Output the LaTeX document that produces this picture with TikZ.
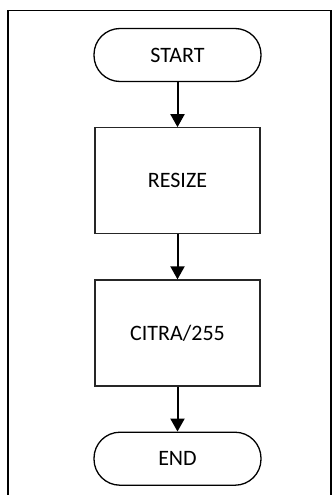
\documentclass[tikz,border=0pt]{standalone}
\usepackage{fontspec}
\setmainfont{Carlito}
\usetikzlibrary{
  arrows.meta,              % Triangle arrow tips
  positioning               % relative placement of the steps
}
\tikzset{
  terminal/.style={
    draw,
    line width=1.3pt,
    rounded corners=26pt,
    minimum width=167pt,
    minimum height=53pt,
    font=\fontsize{22}{26}\selectfont
  },
  process/.style={
    draw=black!85,
    line width=1.2pt,
    minimum width=165pt,
    minimum height=106pt,
    font=\fontsize{22}{26}\selectfont
  },
  flow/.style={
    -{Triangle[length=13pt,width=14pt]},
    line width=2pt
  }
}

\begin{document}
\begin{tikzpicture}
    \useasboundingbox (0,0) rectangle (332pt,-495pt);
    % outer frame
    \draw[line width=1.6pt] (8pt,-10.5pt) rectangle (331pt,-500pt);

    % --- steps ---
    \node[terminal] (start) at (177.5pt,-55pt) {START};
    \node[process, below=45pt of start] (resize) {RESIZE};
    \node[process, below=45pt of resize] (bagi) {CITRA/255};
    \node[terminal, below=45pt of bagi] (end) {END};

    % --- arrows ---
    \draw[flow] (start) -- (resize);
    \draw[flow] (resize) -- (bagi);
    \draw[flow] (bagi) -- (end);
\end{tikzpicture}
\end{document}
